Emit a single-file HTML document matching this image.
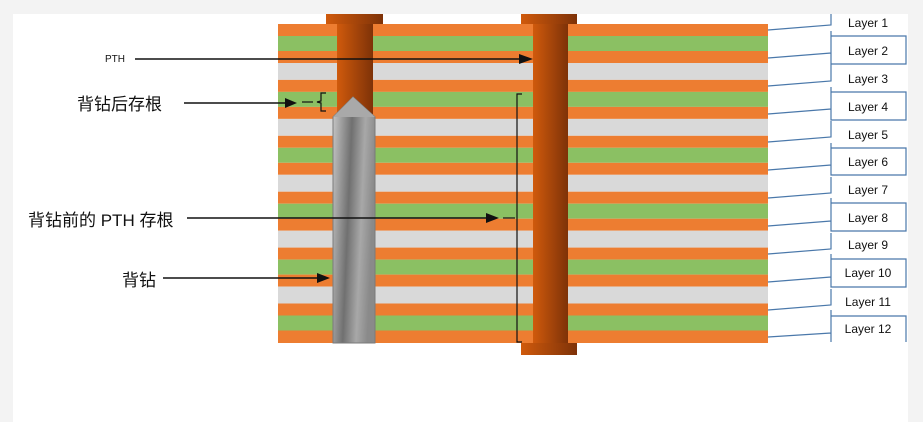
<!DOCTYPE html>
<html><head><meta charset="utf-8"><style>
html,body{margin:0;padding:0;background:#f3f3f3;}
svg{display:block;}
text{font-family:"Liberation Sans","Noto Sans CJK SC",sans-serif;fill:#111;}
</style></head><body>
<svg width="923" height="422" viewBox="0 0 923 422" xmlns="http://www.w3.org/2000/svg">
<defs>
<linearGradient id="cu" x1="0" x2="1" y1="0" y2="0"><stop offset="0" stop-color="#d05a0c"/><stop offset="1" stop-color="#7e3208"/></linearGradient>
<linearGradient id="dr" x1="0" x2="1" y1="0" y2="0.25"><stop offset="0" stop-color="#c8c8c8"/><stop offset="0.45" stop-color="#707070"/><stop offset="0.75" stop-color="#a8a8a8"/><stop offset="1" stop-color="#8a8a8a"/></linearGradient>
</defs>
<rect x="13" y="14" width="895" height="408" fill="#fff"/>
<g id="stripes">
<rect x="278" y="24" width="490" height="12" fill="#ed7d31"/><rect x="278" y="36" width="490" height="15" fill="#8bc063"/><rect x="278" y="51" width="490" height="12" fill="#ed7d31"/><rect x="278" y="63" width="490" height="16.9" fill="#d9d9d9"/>
<rect x="278" y="79.9" width="490" height="12" fill="#ed7d31"/><rect x="278" y="91.9" width="490" height="15" fill="#8bc063"/><rect x="278" y="106.9" width="490" height="12" fill="#ed7d31"/><rect x="278" y="118.9" width="490" height="16.9" fill="#d9d9d9"/>
<rect x="278" y="135.8" width="490" height="12" fill="#ed7d31"/><rect x="278" y="147.8" width="490" height="15" fill="#8bc063"/><rect x="278" y="162.8" width="490" height="12" fill="#ed7d31"/><rect x="278" y="174.8" width="490" height="16.9" fill="#d9d9d9"/>
<rect x="278" y="191.7" width="490" height="12" fill="#ed7d31"/><rect x="278" y="203.7" width="490" height="15" fill="#8bc063"/><rect x="278" y="218.7" width="490" height="12" fill="#ed7d31"/><rect x="278" y="230.7" width="490" height="16.9" fill="#d9d9d9"/>
<rect x="278" y="247.6" width="490" height="12" fill="#ed7d31"/><rect x="278" y="259.6" width="490" height="15" fill="#8bc063"/><rect x="278" y="274.6" width="490" height="12" fill="#ed7d31"/><rect x="278" y="286.6" width="490" height="16.9" fill="#d9d9d9"/>
<rect x="278" y="303.5" width="490" height="12" fill="#ed7d31"/><rect x="278" y="315.5" width="490" height="15" fill="#8bc063"/><rect x="278" y="330.5" width="490" height="12.5" fill="#ed7d31"/>
</g>
<rect x="326" y="14" width="57" height="10" fill="url(#cu)"/>
<rect x="337" y="24" width="36" height="90" fill="url(#cu)"/>
<polygon points="333,117 353,97 375,117 375,343 333,343" fill="url(#dr)" stroke="#7a7a7a" stroke-width="1"/>
<polygon points="333,117 353,97 375,117" fill="#a9a9a9"/>
<rect x="521" y="14" width="56" height="10" fill="url(#cu)"/>
<rect x="533" y="24" width="35" height="320" fill="url(#cu)"/>
<rect x="521" y="343" width="56" height="12" fill="url(#cu)"/>
<path d="M522,94 H517 V342 H522" fill="none" stroke="#111" stroke-width="1.2"/>
<path d="M326,93 H321 V101 L317,102 L321,103 V111 H326" fill="none" stroke="#111" stroke-width="1.2"/>
<line x1="302" y1="102" x2="313" y2="102" stroke="#111" stroke-width="1.2"/>
<line x1="503" y1="218" x2="515" y2="218" stroke="#111" stroke-width="1.2"/>
<g stroke="#111" stroke-width="1.6" fill="#111">
<line x1="135" y1="59" x2="522" y2="59"/><polygon points="533,59 519,54 519,64" stroke="none"/>
<line x1="184" y1="103" x2="288" y2="103"/><polygon points="297,103 285,98 285,108" stroke="none"/>
<line x1="187" y1="218" x2="488" y2="218"/><polygon points="499,218 486,213 486,223" stroke="none"/>
<line x1="163" y1="278" x2="320" y2="278"/><polygon points="330,278 317,273 317,283" stroke="none"/>
</g>
<text x="105" y="62" font-size="10">PTH</text>
<text x="77" y="110" font-size="17">背钻后存根</text>
<text x="28" y="226" font-size="17">背钻前的 PTH 存根</text>
<text x="122" y="286" font-size="17">背钻</text>
<g fill="none" stroke="#4a78aa" stroke-width="1.2">
<path d="M768,30 L831,25 V14"/>
<path d="M768,58 L831,53 M831,31 V65 M831,36 H906 V64 H831"/>
<path d="M768,86 L831,81 V65"/>
<path d="M768,114 L831,109 M831,92 H906 V120 H831 V87"/>
<path d="M768,142 L831,137 V121"/>
<path d="M768,170 L831,165 M831,148 H906 V175 H831 V143"/>
<path d="M768,198 L831,193 V177"/>
<path d="M768,226 L831,221 M831,203 H906 V231 H831 V198"/>
<path d="M768,254 L831,249 V233"/>
<path d="M768,282 L831,277 M831,259 H906 V287 H831 V254"/>
<path d="M768,310 L831,305 V289"/>
<path d="M768,337 L831,333 M831,316 H906 V342 M831,310 V342"/>
</g>
<g font-size="12" text-anchor="middle">
<text x="868" y="27">Layer 1</text>
<text x="868" y="55">Layer 2</text>
<text x="868" y="83">Layer 3</text>
<text x="868" y="111">Layer 4</text>
<text x="868" y="139">Layer 5</text>
<text x="868" y="166">Layer 6</text>
<text x="868" y="194">Layer 7</text>
<text x="868" y="222">Layer 8</text>
<text x="868" y="249">Layer 9</text>
<text x="868" y="277">Layer 10</text>
<text x="868" y="306">Layer 11</text>
<text x="868" y="333">Layer 12</text>
</g>
</svg>
</body></html>
